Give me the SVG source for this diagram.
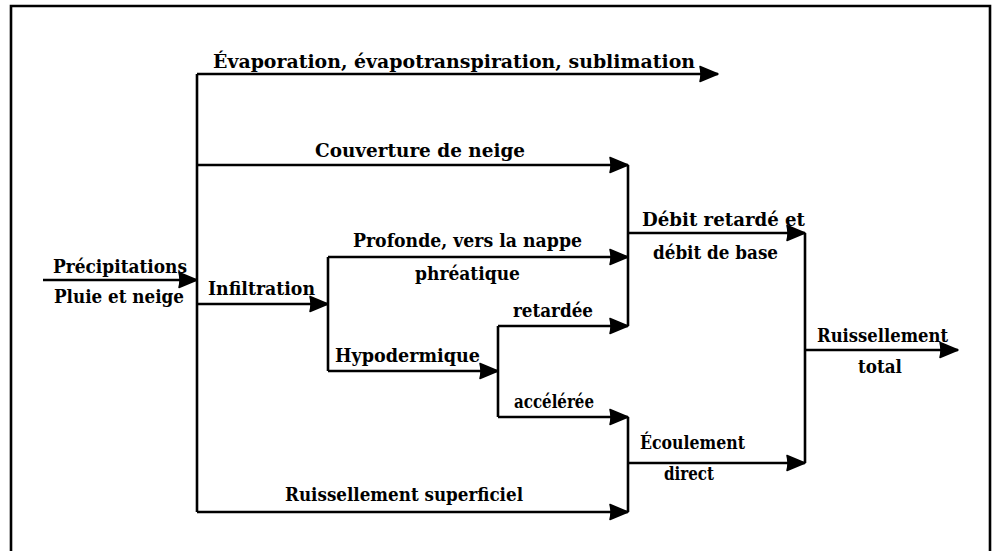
<svg xmlns="http://www.w3.org/2000/svg" width="994" height="551" viewBox="0 0 994 551">
<style>
.ln{stroke:#000;stroke-width:2.6;fill:none}
.ar{stroke:#000;stroke-width:2.6;fill:none;marker-end:url(#ah)}
.hd{fill:#000;stroke:#000;stroke-width:1.5;stroke-linejoin:round}
text{font-family:"DejaVu Serif","Liberation Serif",serif;font-weight:bold;font-size:18.5px;fill:#000}
</style>
<defs>
<marker id="ah" markerUnits="userSpaceOnUse" viewBox="-2 -2 24 20" markerWidth="24" markerHeight="20" refX="18" refY="8" orient="auto">
<path class="hd" d="M0,0.5 L18,8 L0,15.5 Q2,8 0,0.5 Z"/>
</marker>
</defs>
<rect width="994" height="551" fill="#fff"/>
<path class="ln" d="M11,551 L11,6 L990,6 L990,551" stroke-width="3"/>
<g id="connectors">
<path class="ln" d="M197,74 L197,512"/>
<path class="ar" d="M197,74 L718,74"/>
<path class="ar" d="M197,165 L628,165"/>
<path class="ln" d="M628,165 L628,326"/>
<path class="ar" d="M628,233 L805,233"/>
<path class="ar" d="M43,280 L197,280"/>
<path class="ar" d="M197,304 L328,304"/>
<path class="ln" d="M328,257 L328,371"/>
<path class="ar" d="M328,257 L628,257"/>
<path class="ar" d="M328,371 L498,371"/>
<path class="ln" d="M498,326 L498,417"/>
<path class="ar" d="M498,326 L628,326"/>
<path class="ar" d="M498,417 L628,417"/>
<path class="ln" d="M628,417 L628,512"/>
<path class="ar" d="M628,463 L805,463"/>
<path class="ar" d="M197,512 L628,512"/>
<path class="ln" d="M805,233 L805,463"/>
<path class="ar" d="M805,350 L958,350"/>
</g>
<g id="evap"><text x="213" y="68" textLength="482" lengthAdjust="spacingAndGlyphs">Évaporation, évapotranspiration, sublimation</text></g>
<g id="couverture"><text x="315" y="157" textLength="210" lengthAdjust="spacingAndGlyphs">Couverture de neige</text></g>
<g id="debit"><text x="642" y="226" textLength="163" lengthAdjust="spacingAndGlyphs">Débit retardé et</text><text x="653" y="259" textLength="125" lengthAdjust="spacingAndGlyphs">débit de base</text></g>
<g id="precip"><text x="53" y="273" textLength="134" lengthAdjust="spacingAndGlyphs">Précipitations</text><text x="54" y="303" textLength="130" lengthAdjust="spacingAndGlyphs">Pluie et neige</text></g>
<g id="infiltration"><text x="208" y="295" textLength="107" lengthAdjust="spacingAndGlyphs">Infiltration</text></g>
<g id="profonde"><text x="353" y="247" textLength="229" lengthAdjust="spacingAndGlyphs">Profonde, vers la nappe</text><text x="415" y="280" textLength="105" lengthAdjust="spacingAndGlyphs">phréatique</text></g>
<g id="hypodermique"><text x="335" y="362" textLength="145" lengthAdjust="spacingAndGlyphs">Hypodermique</text></g>
<g id="retardee"><text x="513" y="317" textLength="80" lengthAdjust="spacingAndGlyphs">retardée</text></g>
<g id="acceleree"><text x="514" y="408" textLength="80" lengthAdjust="spacingAndGlyphs">accélérée</text></g>
<g id="ecoulement"><text x="640" y="449" textLength="105" lengthAdjust="spacingAndGlyphs">Écoulement</text><text x="664" y="480" textLength="50" lengthAdjust="spacingAndGlyphs">direct</text></g>
<g id="superficiel"><text x="285" y="501" textLength="238" lengthAdjust="spacingAndGlyphs">Ruissellement superficiel</text></g>
<g id="total"><text x="817" y="342" textLength="131" lengthAdjust="spacingAndGlyphs">Ruissellement</text><text x="858" y="373" textLength="44" lengthAdjust="spacingAndGlyphs">total</text></g>
</svg>
